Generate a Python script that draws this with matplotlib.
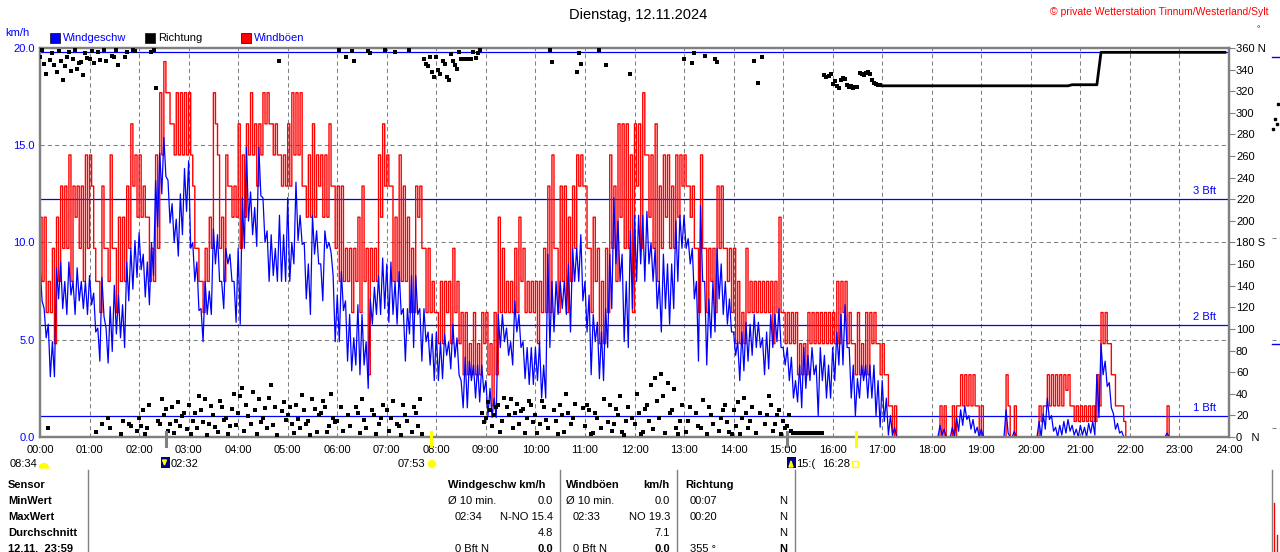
"""Wind chart for Dienstag, 12.11.2024 (Tinnum/Westerland/Sylt)."""

import numpy as np
import matplotlib

matplotlib.use("Agg")
import matplotlib.pyplot as plt
from matplotlib import patches, transforms
from matplotlib.lines import Line2D

plt.rcParams["font.family"] = ["Liberation Sans", "DejaVu Sans"]

# ---- data: highest / lowest reading in every 5 minute slot, 00:00 .. 23:55 ----
WIND_HIGH = [
    8.9, 6.6, 5.8, 4.9, 8.7, 9.0, 8.0, 9.0, 8.0, 8.7, 8.0, 8.0,            # 00
    8.3, 7.4, 5.6, 8.2, 5.6, 6.7, 7.8, 7.3, 6.8, 9.0, 9.7, 10.1,           # 01
    10.5, 9.4, 9.0, 10.0, 13.2, 14.6, 15.4, 13.2, 12.0, 11.2, 12.5, 13.8,  # 02
    14.2, 10.0, 9.0, 6.6, 8.0, 7.5, 10.7, 10.4, 8.0, 9.7, 9.4, 8.0,        # 03
    9.7, 12.3, 14.9, 12.6, 11.8, 14.9, 12.3, 10.6, 10.4, 9.7, 11.4, 10.4,  # 04
    12.3, 10.0, 13.1, 11.4, 10.0, 8.9, 11.4, 10.6, 8.9, 10.6, 10.0, 8.3,   # 05
    7.3, 8.5, 7.0, 6.3, 5.1, 6.8, 6.3, 4.9, 7.1, 7.7, 8.3, 9.2,            # 06
    8.9, 9.0, 8.0, 8.5, 6.6, 6.6, 8.3, 8.3, 6.6, 6.6, 5.4, 5.3,            # 07
    5.4, 4.9, 5.3, 4.9, 5.8, 5.1, 2.9, 4.1, 3.9, 3.7, 3.7, 3.7,            # 08
    2.9, 2.5, 2.0, 6.3, 6.3, 5.6, 4.9, 7.0, 6.3, 4.9, 4.6, 4.6,            # 09
    4.6, 4.9, 3.7, 9.4, 8.0, 8.0, 8.0, 8.0, 8.9, 9.7, 9.7, 10.4,           # 10
    8.0, 7.3, 6.3, 5.9, 5.4, 6.6, 9.4, 12.3, 11.1, 9.4, 8.0, 10.6,         # 11
    11.4, 11.4, 11.4, 11.6, 10.0, 9.7, 8.0, 9.4, 8.9, 8.9, 11.1, 11.4,     # 12
    11.4, 10.2, 9.7, 8.0, 11.9, 8.0, 7.1, 8.0, 9.7, 8.9, 8.0, 7.1,         # 13
    5.4, 4.9, 5.4, 5.9, 5.8, 6.3, 5.9, 5.1, 5.4, 6.3, 6.3, 6.6,            # 14
    4.6, 4.6, 4.1, 2.9, 3.7, 4.6, 4.2, 4.6, 3.7, 4.6, 4.2, 3.7,            # 15
    4.6, 5.4, 6.3, 6.8, 4.6, 3.7, 3.0, 3.7, 3.7, 3.7, 3.7, 2.9,            # 16
    2.9, 2.0, 1.1, 0.5, 0.0, 0.0, 0.0, 0.0, 0.0, 0.0, 0.0, 0.0,            # 17
    0.0, 0.0, 0.6, 0.4, 0.0, 0.5, 1.0, 1.4, 1.6, 1.1, 0.9, 0.5,            # 18
    0.4, 0.0, 0.0, 0.0, 0.0, 0.0, 1.4, 0.0, 0.3, 0.0, 0.0, 0.0,            # 19
    0.0, 0.0, 0.8, 1.2, 2.0, 1.1, 0.5, 0.6, 0.8, 0.9, 0.6, 0.4,            # 20
    0.6, 0.5, 0.7, 0.8, 3.2, 4.8, 3.9, 2.8, 1.2, 0.7, 0.3, 0.0,            # 21
    0.0, 0.0, 0.0, 0.0, 0.0, 0.0, 0.0, 0.0, 0.0, 0.2, 0.0, 0.0,            # 22
    0.0, 0.0, 0.0, 0.0, 0.0, 0.0, 0.0, 0.0, 0.0, 0.0, 0.0, 0.0,            # 23
]

WIND_LOW = [
    7.0, 5.1, 3.1, 3.1, 7.1, 6.6, 6.3, 7.3, 6.3, 7.0, 6.6, 6.3,            # 00
    6.8, 5.4, 3.9, 6.2, 3.8, 4.4, 5.3, 5.1, 4.6, 7.0, 7.6, 8.2,            # 01
    8.6, 7.2, 6.8, 8.3, 10.8, 12.5, 13.4, 11.0, 10.0, 9.3, 10.4, 11.6,     # 02
    9.7, 8.0, 6.5, 4.9, 6.3, 6.3, 8.9, 8.0, 6.6, 8.9, 8.0, 5.9,            # 03
    5.8, 9.7, 11.1, 10.4, 9.8, 12.4, 10.0, 8.0, 8.3, 8.0, 8.0, 8.0,        # 04
    8.0, 8.9, 10.1, 9.9, 7.1, 6.3, 9.4, 8.9, 7.0, 9.7, 9.5, 4.9,           # 05
    4.9, 6.5, 3.9, 3.4, 3.7, 3.2, 3.7, 2.5, 5.8, 6.3, 6.3, 6.6,            # 06
    5.9, 6.3, 5.8, 6.3, 3.9, 5.3, 4.6, 6.3, 3.9, 4.9, 3.7, 2.9,            # 07
    2.9, 3.0, 4.2, 3.5, 4.1, 3.2, 1.5, 1.5, 2.9, 2.0, 1.8, 2.3,            # 08
    1.1, 1.0, 1.0, 4.6, 4.9, 4.2, 3.7, 5.4, 4.6, 3.0, 2.7, 2.7,            # 09
    2.9, 2.0, 2.0, 4.6, 5.4, 6.3, 6.6, 6.3, 5.4, 8.0, 8.0, 7.0,            # 10
    5.4, 3.2, 4.9, 3.0, 2.9, 4.6, 6.6, 8.9, 8.0, 4.9, 4.6, 6.6,            # 11
    8.0, 8.9, 8.0, 8.9, 8.0, 6.6, 5.4, 6.6, 5.8, 6.6, 8.0, 9.7,            # 12
    9.7, 8.9, 7.1, 3.9, 8.0, 3.7, 5.1, 5.4, 7.1, 6.3, 5.8, 5.4,            # 13
    4.2, 2.9, 3.4, 3.9, 4.2, 4.6, 4.6, 3.2, 3.5, 4.6, 4.9, 4.6,            # 14
    3.7, 2.9, 2.0, 1.8, 1.5, 2.5, 2.9, 3.2, 1.1, 2.9, 2.0, 2.0,            # 15
    2.9, 3.7, 3.7, 4.6, 2.0, 1.1, 2.0, 2.9, 2.0, 2.0, 1.1, 0.5,            # 16
    0.8, 0.1, 0.1, 0.0, 0.0, 0.0, 0.0, 0.0, 0.0, 0.0, 0.0, 0.0,            # 17
    0.0, 0.0, 0.1, 0.0, 0.0, 0.0, 0.3, 0.6, 0.9, 0.4, 0.2, 0.0,            # 18
    0.0, 0.0, 0.0, 0.0, 0.0, 0.0, 0.2, 0.0, 0.0, 0.0, 0.0, 0.0,            # 19
    0.0, 0.0, 0.0, 0.4, 0.9, 0.3, 0.0, 0.1, 0.2, 0.3, 0.1, 0.0,            # 20
    0.1, 0.0, 0.2, 0.1, 1.0, 3.2, 2.6, 1.5, 0.4, 0.2, 0.0, 0.0,            # 21
    0.0, 0.0, 0.0, 0.0, 0.0, 0.0, 0.0, 0.0, 0.0, 0.0, 0.0, 0.0,            # 22
    0.0, 0.0, 0.0, 0.0, 0.0, 0.0, 0.0, 0.0, 0.0, 0.0, 0.0, 0.0,            # 23
]

GUST_HIGH = [
    11.3, 11.3, 8.0, 9.7, 11.3, 12.9, 12.9, 14.5, 12.9, 12.9, 12.9, 14.5,   # 00
    14.5, 9.7, 8.0, 12.9, 9.7, 14.5, 9.7, 11.3, 11.3, 12.9, 16.1, 14.5,     # 01
    14.5, 12.9, 11.3, 9.7, 14.5, 17.7, 19.3, 17.7, 16.1, 17.7, 17.7, 17.7,  # 02
    17.7, 12.9, 9.7, 8.0, 9.7, 11.3, 17.7, 14.5, 11.3, 14.5, 12.9, 12.9,    # 03
    16.1, 14.5, 16.1, 17.7, 16.1, 16.1, 17.7, 17.7, 16.1, 16.1, 14.5, 14.5,  # 04
    16.1, 17.7, 17.7, 17.7, 12.9, 14.5, 16.1, 14.5, 14.5, 14.5, 16.1, 12.9,  # 05
    12.9, 12.9, 9.7, 9.7, 9.7, 11.3, 12.9, 9.7, 9.7, 9.7, 14.5, 16.1,       # 06
    14.5, 12.9, 11.3, 14.5, 12.9, 11.3, 9.7, 12.9, 12.9, 9.7, 9.7, 8.0,     # 07
    6.4, 8.0, 8.0, 8.0, 9.7, 8.0, 6.4, 6.4, 4.8, 6.4, 4.8, 6.4,             # 08
    6.4, 4.8, 6.4, 11.3, 9.7, 8.0, 8.0, 9.7, 11.3, 9.7, 8.0, 8.0,           # 09
    8.0, 8.0, 9.7, 12.9, 14.5, 9.7, 12.9, 12.9, 11.3, 12.9, 14.5, 14.5,     # 10
    12.9, 9.7, 11.3, 9.7, 8.0, 9.7, 14.5, 12.9, 16.1, 16.1, 16.1, 14.5,     # 11
    16.1, 16.1, 17.7, 14.5, 14.5, 16.1, 12.9, 14.5, 14.5, 12.9, 14.5, 14.5,  # 12
    14.5, 12.9, 12.9, 9.7, 14.5, 9.7, 9.7, 9.7, 12.9, 12.9, 9.7, 9.7,       # 13
    9.7, 8.0, 6.4, 9.7, 8.0, 8.0, 8.0, 8.0, 8.0, 8.0, 8.0, 11.3,            # 14
    6.4, 6.4, 6.4, 6.4, 4.8, 4.8, 6.4, 6.4, 6.4, 6.4, 6.4, 6.4,             # 15
    6.4, 8.0, 8.0, 8.0, 6.4, 4.8, 6.4, 4.8, 6.4, 6.4, 6.4, 4.8,             # 16
    4.8, 3.2, 1.6, 1.6, 0.0, 0.0, 0.0, 0.0, 0.0, 0.0, 0.0, 0.0,             # 17
    0.0, 0.0, 1.6, 1.6, 0.0, 1.6, 1.6, 3.2, 3.2, 3.2, 3.2, 1.6,             # 18
    1.6, 0.0, 0.0, 0.0, 0.0, 0.0, 3.2, 0.0, 1.6, 0.0, 0.0, 0.0,             # 19
    0.0, 0.0, 1.6, 1.6, 3.2, 3.2, 3.2, 3.2, 3.2, 3.2, 1.6, 1.6,             # 20
    1.6, 1.6, 1.6, 1.6, 3.2, 6.4, 6.4, 4.8, 3.2, 1.6, 1.6, 0.0,             # 21
    0.0, 0.0, 0.0, 0.0, 0.0, 0.0, 0.0, 0.0, 0.0, 1.6, 0.0, 0.0,             # 22
    0.0, 0.0, 0.0, 0.0, 0.0, 0.0, 0.0, 0.0, 0.0, 0.0, 0.0, 0.0,             # 23
]

GUST_LOW = [
    8.0, 6.4, 6.4, 4.8, 8.0, 9.7, 9.7, 8.0, 11.3, 9.7, 8.0, 9.7,            # 00
    12.9, 8.0, 6.4, 9.7, 8.0, 9.7, 6.4, 8.0, 8.0, 9.7, 12.9, 11.3,          # 01
    11.3, 11.3, 8.0, 8.0, 9.7, 14.5, 17.7, 16.1, 14.5, 14.5, 14.5, 14.5,    # 02
    14.5, 9.7, 8.0, 6.4, 8.0, 9.7, 16.1, 9.7, 8.0, 12.9, 11.3, 11.3,        # 03
    9.7, 11.3, 14.5, 14.5, 12.9, 14.5, 16.1, 16.1, 14.5, 14.5, 12.9, 12.9,  # 04
    12.9, 14.5, 14.5, 12.9, 11.3, 11.3, 11.3, 12.9, 11.3, 11.3, 12.9, 9.7,  # 05
    8.0, 8.0, 8.0, 6.4, 8.0, 6.4, 8.0, 3.2, 8.0, 8.0, 11.3, 12.9,           # 06
    12.9, 8.0, 8.0, 8.0, 8.0, 6.4, 6.4, 11.3, 9.7, 6.4, 6.4, 6.4,           # 07
    4.8, 4.8, 6.4, 4.8, 6.4, 4.8, 3.2, 3.2, 3.2, 3.2, 3.2, 4.8,             # 08
    3.2, 1.6, 3.2, 6.4, 6.4, 6.4, 6.4, 6.4, 8.0, 6.4, 6.4, 6.4,             # 09
    4.8, 6.4, 6.4, 6.4, 9.7, 6.4, 8.0, 6.4, 8.0, 9.7, 12.9, 12.9,           # 10
    9.7, 6.4, 8.0, 4.8, 4.8, 6.4, 9.7, 8.0, 11.3, 9.7, 9.7, 6.4,            # 11
    12.9, 9.7, 14.5, 11.3, 9.7, 8.0, 9.7, 11.3, 9.7, 9.7, 11.3, 12.9,       # 12
    12.9, 11.3, 9.7, 6.4, 9.7, 6.4, 8.0, 6.4, 9.7, 9.7, 8.0, 6.4,           # 13
    4.8, 4.8, 4.8, 6.4, 6.4, 6.4, 6.4, 6.4, 6.4, 4.8, 6.4, 6.4,             # 14
    4.8, 4.8, 4.8, 3.2, 3.2, 3.2, 4.8, 4.8, 4.8, 4.8, 4.8, 4.8,             # 15
    4.8, 4.8, 6.4, 4.8, 4.8, 3.2, 3.2, 3.2, 3.2, 4.8, 4.8, 3.2,             # 16
    3.2, 1.6, 0.0, 0.0, 0.0, 0.0, 0.0, 0.0, 0.0, 0.0, 0.0, 0.0,             # 17
    0.0, 0.0, 0.0, 0.0, 0.0, 0.0, 1.6, 1.6, 1.6, 1.6, 1.6, 0.0,             # 18
    0.0, 0.0, 0.0, 0.0, 0.0, 0.0, 1.6, 0.0, 0.0, 0.0, 0.0, 0.0,             # 19
    0.0, 0.0, 0.8, 1.6, 1.6, 1.6, 1.6, 1.6, 2.4, 1.6, 0.8, 0.8,             # 20
    0.8, 0.8, 0.8, 0.8, 1.6, 4.8, 4.8, 3.2, 1.6, 1.6, 0.8, 0.0,             # 21
    0.0, 0.0, 0.0, 0.0, 0.0, 0.0, 0.0, 0.0, 0.0, 0.0, 0.0, 0.0,             # 22
    0.0, 0.0, 0.0, 0.0, 0.0, 0.0, 0.0, 0.0, 0.0, 0.0, 0.0, 0.0,             # 23
]

# wind direction in degrees, first reading of each 5 minute slot
DIRECTION = [
    352, 345, 8, 355, 338, 348, 343, 356, 350, 341, 347, 355,      # 00
    350, 346, 356, 12, 348, 8, 352, 344, 15, 356, 10, 357,         # 01
    18, 25, 8, 356, 323, 12, 20, 6, 28, 15, 10, 22,                # 02
    30, 15, 8, 25, 35, 12, 20, 5, 28, 18, 10, 40,                  # 03
    22, 45, 30, 12, 25, 35, 18, 8, 48, 28, 348, 32,                # 04
    20, 12, 30, 8, 25, 15, 35, 5, 22, 28, 10, 18,                  # 05
    15, 28, 352, 10, 348, 22, 35, 8, 355, 20, 12, 30,              # 06
    25, 18, 356, 10, 30, 15, 5, 22, 35, 350, 343, 338,             # 07
    352, 336, 345, 330, 348, 341, 350, 350, 350, 356, 355, 22,     # 08
    18, 25, 20, 30, 15, 28, 35, 22, 12, 26, 18, 30,                # 09
    20, 12, 28, 8, 347, 15, 30, 5, 22, 18, 338, 345,               # 10
    10, 25, 4, 18, 8, 344, 30, 12, 20, 5, 15, 336,                 # 11
    12, 22, 5, 30, 48, 55, 18, 38, 50, 25, 8, 15,                  # 12
    350, 15, 346, 22, 8, 353, 28, 12, 347, 18, 30, 5,              # 13
    25, 32, 18, 22, 15, 348, 328, 352, 20, 30, 12, 25,             # 14
    15, 10, 6, 4, 4, 4, 4, 4, 4, 4, 335, 334,                      # 15
    327, 325, 330, 331, 324, 323, 324, 336, 337, 336, 328, 326,    # 16
    325, 325, 325, 325, 325, 325, 325, 325, 325, 325, 325, 325,    # 17
    325, 325, 325, 325, 325, 325, 325, 325, 325, 325, 325, 325,    # 18
    325, 325, 325, 325, 325, 325, 325, 325, 325, 325, 325, 325,    # 19
    325, 325, 325, 325, 325, 325, 325, 325, 325, 325, 326, 326,    # 20
    326, 326, 326, 326, 326, 356, 356, 356, 356, 356, 356, 356,    # 21
    356, 356, 356, 356, 356, 356, 356, 356, 356, 356, 356, 356,    # 22
    356, 356, 356, 356, 356, 356, 356, 356, 356, 356, 356, 356,    # 23
]

# second reading of each 5 minute slot while the wind still changes (00:00 .. 16:55)
DIRECTION_2 = [
    358, 336, 349, 344, 357, 330, 352, 339, 358, 346, 335, 351,    # 00
    357, 5, 349, 358, 18, 353, 358, 3, 352, 12, 358, 6,            # 01
    10, 3, 30, 358, 15, 35, 26, 12, 4, 32, 19, 7,                  # 02
    3, 22, 38, 14, 2, 29, 9, 33, 16, 3, 26, 11,                    # 03
    38, 6, 19, 42, 3, 14, 27, 36, 11, 2, 24, 16,                   # 04
    28, 4, 17, 39, 12, 2, 26, 20, 33, 5, 40, 14,                   # 05
    358, 6, 20, 357, 28, 4, 16, 357, 25, 3, 18, 358,               # 06
    6, 33, 12, 2, 20, 358, 28, 10, 3, 345, 352, 333,               # 07
    340, 348, 333, 354, 344, 356, 350, 350, 350, 351, 358, 14,     # 08
    32, 10, 28, 5, 36, 20, 8, 31, 24, 4, 33, 14,                   # 09
    4, 33, 16, 358, 25, 3, 20, 40, 12, 31, 355, 27,                # 10
    30, 3, 22, 358, 35, 14, 6, 26, 38, 2, 28, 18,                  # 11
    40, 3, 26, 15, 7, 33, 58, 4, 22, 44, 3, 30,                    # 12
    5, 28, 355, 10, 34, 3, 20, 350, 6, 25, 14, 3,                  # 13
    10, 3, 36, 8, 28, 4, 22, 12, 38, 6, 20, 3,                     # 14
    8, 20, 4, 4, 4, 4, 4, 4, 4, 4, 333, 336,                       # 15
    329, 323, 332, 326, 325, 324, 337, 335, 338, 330, 327, 326,    # 16
]

HOUR_LABELS = [f"{h:02d}:00" for h in range(25)]
SPEED_TICKS = [0, 5, 10, 15, 20]
DIR_TICKS = list(range(0, 361, 20))
DIR_NAMES = {0: "0   N", 180: "180 S", 360: "360 N"}
BFT_LEVELS = [1.08, 5.76, 12.24, 19.8]
BFT_LABELS = ["1 Bft", "2 Bft", "3 Bft", ""]

SUN_MOON_TIMES = [2 + 32 / 60, 7 + 53 / 60, 15 + 5 / 60, 16 + 28 / 60]

TABLE_ROWS = ["Sensor", "MinWert", "MaxWert", "Durchschnitt", "12.11.  23:59"]
SPEED_COL = [("Windgeschw km/h", ""), ("Ø 10 min.", "0.0"), ("02:34", "N-NO 15.4"),
             ("", "4.8"), ("0 Bft N", "0.0")]
GUST_COL = [("Windböen", "km/h"), ("Ø 10 min.", "0.0"), ("02:33", "NO 19.3"),
            ("", "7.1"), ("0 Bft N", "0.0")]
DIR_COL = [("Richtung", ""), ("00:07", "N"), ("00:20", "N"), ("", "N"), ("355 °", "N")]

GREY = "#808080"
BLUE = "#0000ff"
RED = "#ff0000"
W, H = 1280, 552

fig = plt.figure(figsize=(W / 100, H / 100), dpi=100)
# pixel coordinates, origin top-left
px = transforms.Affine2D().scale(1 / W, -1 / H).translate(0, 1) + fig.transFigure

ax = fig.add_axes([40 / W, 1 - 437 / H, 1189 / W, 389 / H])
ax.set_xlim(0, 24)
ax.set_ylim(0, 20)

times = np.arange(len(WIND_HIGH)) * 5 / 60
half = 2.5 / 60
t_pair = np.column_stack([times, times + half]).ravel()
wind = np.column_stack([WIND_HIGH, WIND_LOW]).ravel()
gust = np.column_stack([GUST_HIGH, GUST_LOW]).ravel()

dash = (0, (4, 3))
for h in range(1, 24):
    ax.axvline(h, color=GREY, lw=0.75, ls=dash, zorder=1)
for v in (5, 10, 15):
    ax.axhline(v, color=GREY, lw=0.75, ls=dash, zorder=1)
for lvl, lab in zip(BFT_LEVELS, BFT_LABELS):
    ax.axhline(lvl, color=BLUE, lw=0.9, zorder=2)
    if lab:
        ax.text(23.5, lvl + 0.15, lab, color=BLUE, fontsize=8, ha="center", va="bottom")

ax.step(t_pair, gust, where="post", color=RED, lw=1.0, zorder=3)
ax.plot(t_pair, wind, color=BLUE, lw=0.9, zorder=4)

ax.set_yticks(SPEED_TICKS)
ax.set_yticklabels([f"{v:.1f}" for v in SPEED_TICKS], color=BLUE)
ax.set_xticks(range(25))
ax.set_xticklabels(HOUR_LABELS)
ax.tick_params(axis="y", length=0, labelsize=8, pad=4)
ax.tick_params(axis="x", length=0, labelsize=8, pad=6)

ax2 = ax.twinx()
ax2.set_ylim(0, 360)
direction = np.array(DIRECTION, dtype=float)
n_var = len(DIRECTION_2)
ax2.scatter(times[:n_var], direction[:n_var], marker="s", s=7, color="black",
            linewidths=0, zorder=5)
ax2.scatter(times[:n_var] + half, DIRECTION_2, marker="s", s=7, color="black",
            linewidths=0, zorder=5)
ax2.plot(times[n_var:], direction[n_var:], color="black", lw=2.0, zorder=5)
ax2.set_yticks(DIR_TICKS)
ax2.set_yticklabels([DIR_NAMES.get(d, str(d)) for d in DIR_TICKS])
ax2.tick_params(axis="y", length=4, width=0.8, color=GREY, labelsize=8, pad=1)

for a in (ax, ax2):
    for sp in a.spines.values():
        sp.set_color(GREY)
        sp.set_linewidth(1.6)

# sun / moon markers on the time axis
mark_tr = transforms.blended_transform_factory(ax.transData, fig.transFigure)
for t, col in zip(SUN_MOON_TIMES, [GREY, "#ffff00", GREY, "#ffff00"]):
    fig.add_artist(Line2D([t, t], [1 - 432 / H, 1 - 446 / H], transform=mark_tr,
                          color=col, lw=2.2))

# header texts
fig.text(638, 15, "Dienstag, 12.11.2024", transform=px, fontsize=10.5,
         ha="center", va="center")
fig.text(1268, 12, "© private Wetterstation Tinnum/Westerland/Sylt", transform=px,
         fontsize=7.5, color=RED, ha="right", va="center")
fig.text(1258, 30, "°", transform=px, fontsize=6, ha="center", va="center")
fig.text(5, 33, "km/h", transform=px, fontsize=8, color=BLUE, va="center")

for x0, col, lab, tcol in [(50, BLUE, "Windgeschw", BLUE), (145, "black", "Richtung", "black"),
                           (241, RED, "Windböen", BLUE)]:
    fig.add_artist(patches.Rectangle((x0, 33), 10, 10, transform=px, facecolor=col,
                                     edgecolor="#202020", lw=0.6))
    fig.text(x0 + 13, 38, lab, transform=px, fontsize=8, color=tcol, va="center")

# sun / moon times row
fig.text(10, 464, "08:34", transform=px, fontsize=8, va="center")
fig.add_artist(patches.Wedge((44, 468), 4.5, 180, 360, transform=px, color="#ffff00"))
fig.add_artist(patches.Rectangle((161, 457), 9, 11, transform=px, facecolor="#000080"))
fig.add_artist(patches.Polygon([(162.5, 460), (166.5, 460), (164.5, 465)], transform=px,
                               color="#ffff00"))
fig.text(171, 464, "02:32", transform=px, fontsize=8, va="center")
fig.text(425, 464, "07:53", transform=px, fontsize=8, va="center", ha="right")
fig.add_artist(patches.Circle((432, 464), 3.5, transform=px, color="#ffff00"))
fig.add_artist(patches.Rectangle((787, 457), 9, 11, transform=px, facecolor="#000080"))
fig.add_artist(patches.Polygon([(789, 467), (793, 467), (791, 461)], transform=px,
                               color="#ffff00"))
fig.text(796, 464, "15:(", transform=px, fontsize=8, va="center")
fig.text(822, 464, "16:28", transform=px, fontsize=8, va="center")
fig.add_artist(patches.Rectangle((852, 461), 6, 6, transform=px, facecolor="none",
                                 edgecolor="#ffff00", lw=1))

# table
for xs in (88, 560, 677, 795, 1272):
    fig.add_artist(Line2D([xs, xs], [470, 552], transform=px, color=GREY, lw=1))
fig.add_artist(Line2D([1274, 1274], [503, 552], transform=px, color=RED, lw=1))
fig.add_artist(Line2D([1277, 1277], [535, 552], transform=px, color=RED, lw=1))

row_y = [485, 501, 517, 533, 549]
for i, (lab, y) in enumerate(zip(TABLE_ROWS, row_y)):
    fig.text(8, y, lab, transform=px, fontsize=8, fontweight="bold", va="center")
    bold = i == 0
    last = i == len(TABLE_ROWS) - 1
    left, right = SPEED_COL[i]
    fig.text(448 if i < 2 else 455, y, left, transform=px, fontsize=8, va="center",
             fontweight="bold" if bold else "normal")
    fig.text(553, y, right, transform=px, fontsize=8, va="center", ha="right",
             fontweight="bold" if last else "normal")
    left, right = GUST_COL[i]
    fig.text(566 if i < 2 else 573, y, left, transform=px, fontsize=8, va="center",
             fontweight="bold" if bold else "normal")
    fig.text(670, y, right, transform=px, fontsize=8, va="center", ha="right",
             fontweight="bold" if (bold or last) else "normal")
    left, right = DIR_COL[i]
    fig.text(685 if i == 0 else 690, y, left, transform=px, fontsize=8, va="center",
             fontweight="bold" if bold else "normal")
    fig.text(787, y, right, transform=px, fontsize=8, va="center", ha="right",
             fontweight="bold" if last else "normal")

# fragments of the neighbouring chart at the right edge
for yy in (238, 340, 428):
    fig.add_artist(Line2D([1272, 1280], [yy, yy], transform=px, color=GREY, lw=0.75, ls=dash))
for yy in (57, 344):
    fig.add_artist(Line2D([1272, 1280], [yy, yy], transform=px, color=BLUE, lw=1))
for xx, yy in [(1277, 103), (1274, 118), (1276, 123), (1272, 128)]:
    fig.add_artist(patches.Rectangle((xx, yy), 2, 2, transform=px, color="black"))

fig.savefig("out.png", dpi=100)
